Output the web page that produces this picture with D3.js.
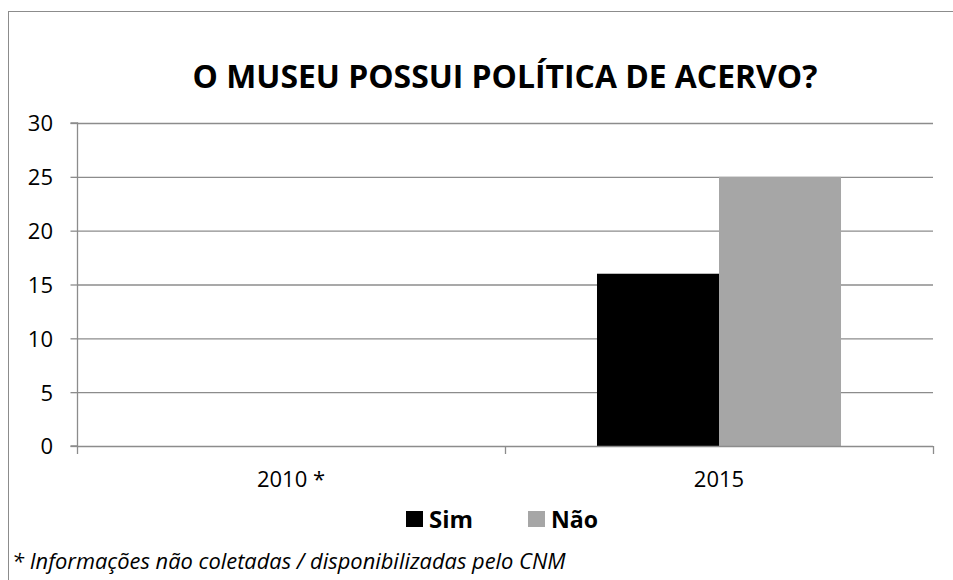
<!DOCTYPE html>
<html><head><meta charset="utf-8">
<script src="https://cdn.jsdelivr.net/npm/d3@7"></script>
<style>body{margin:0;background:#fff}svg{display:block}text{font-family:"Open Sans",sans-serif}</style>
</head><body>
<svg id="c" width="953" height="580"></svg>
<script>
const categories = ["2010 *", "2015"];
const seriesNames = ["Sim", "Não"];
const simValues = [null, 16];
const naoValues = [null, 25];
const yTicks = [0, 5, 10, 15, 20, 25, 30];
const title = "O MUSEU POSSUI POLÍTICA DE ACERVO?";
const footnote = "* Informações não coletadas / disponibilizadas pelo CNM";
const colors = ["#000000", "#a6a6a6"];

const svg = d3.select("#c");
const m = {l: 77, r: 933, t: 123, b: 446};

svg.append("rect").attr("x", 8.5).attr("y", 11.5).attr("width", 960).attr("height", 600)
  .attr("fill", "none").attr("stroke", "#8c8c8c").attr("stroke-width", 1);

function fit(sel, w) {
  const n = sel.node(); const L = n.getComputedTextLength();
  const fs = parseFloat(sel.style("font-size"));
  sel.style("font-size", (fs * w / L) + "px");
}

const x0 = d3.scaleBand().domain(categories).range([m.l, m.r]);
const x1 = d3.scaleBand().domain(seriesNames).range([0, x0.bandwidth()]).paddingOuter(0.754).paddingInner(0);
const y = d3.scaleLinear().domain([0, 30]).range([m.b, m.t]);

// gridlines
svg.append("g").selectAll("line").data(yTicks.filter(d => d > 0)).join("line")
  .attr("x1", m.l).attr("x2", m.r).attr("y1", d => y(d) + 0.5).attr("y2", d => y(d) + 0.5)
  .attr("stroke", "#8c8c8c").attr("stroke-width", 1.3);

// bars
const data = categories.map((c, i) => ({c, vals: [simValues[i], naoValues[i]]}));
svg.append("g").selectAll("g").data(data).join("g")
  .attr("transform", d => `translate(${x0(d.c)},0)`)
  .selectAll("rect").data(d => d.vals.map((v, j) => ({v, s: seriesNames[j], j})).filter(e => e.v != null))
  .join("rect")
  .attr("x", e => x1(e.s)).attr("width", x1.bandwidth())
  .attr("y", e => y(e.v)).attr("height", e => y(0) - y(e.v))
  .attr("fill", e => colors[e.j]);

// y axis
const ya = svg.append("g").attr("transform", `translate(${m.l + 0.5},0)`)
  .call(d3.axisLeft(y).tickValues(yTicks).tickSize(7).tickPadding(17.5).tickFormat(d3.format("d")));
ya.select(".domain").attr("stroke", "#8c8c8c").attr("stroke-width", 1.3).attr("d", `M-7,${m.t}H0V${m.b}H-7`);
ya.selectAll(".tick line").attr("stroke", "#8c8c8c").attr("stroke-width", 1.3);
ya.selectAll(".tick text").style("font-size", "22px").style("font-family", "'Open Sans'").attr("fill", "#000").attr("dy", "0.36em");

// x axis
const xa = svg.append("g").attr("transform", `translate(0,${m.b + 0.5})`)
  .call(d3.axisBottom(x0).tickSize(0).tickPadding(25));
xa.select(".domain").attr("stroke", "#8c8c8c").attr("stroke-width", 1.3).attr("d", `M${m.l},0H${m.r}`);
xa.selectAll(".tick text").style("font-size", "22px").style("font-family", "'Open Sans'").attr("fill", "#000");
svg.append("g").selectAll("line").data([m.l, x0(categories[1]), m.r]).join("line")
  .attr("x1", d => d + 0.5).attr("x2", d => d + 0.5).attr("y1", m.b).attr("y2", m.b + 8)
  .attr("stroke", "#8c8c8c").attr("stroke-width", 1.3);

// title
const t = svg.append("text").attr("x", (m.l + m.r) / 2).attr("y", 88).attr("text-anchor", "middle")
  .attr("font-weight", "bold").style("font-size", "28px").text(title);
fit(t, 625);

// legend
const lx = [406, 528];
seriesNames.forEach((s, i) => {
  svg.append("rect").attr("x", lx[i]).attr("y", 511).attr("width", 17).attr("height", 16).attr("fill", colors[i]);
  const lt = svg.append("text").attr("x", lx[i] + 23).attr("y", 528).style("font-size", "22px").attr("font-weight", "bold").text(s);
  fit(lt, i === 0 ? 44 : 47);
});

// footnote
const f = svg.append("text").attr("x", 12).attr("y", 569).attr("font-style", "italic").style("font-size", "19px").text(footnote);
fit(f, 554);
</script>
</body></html>
